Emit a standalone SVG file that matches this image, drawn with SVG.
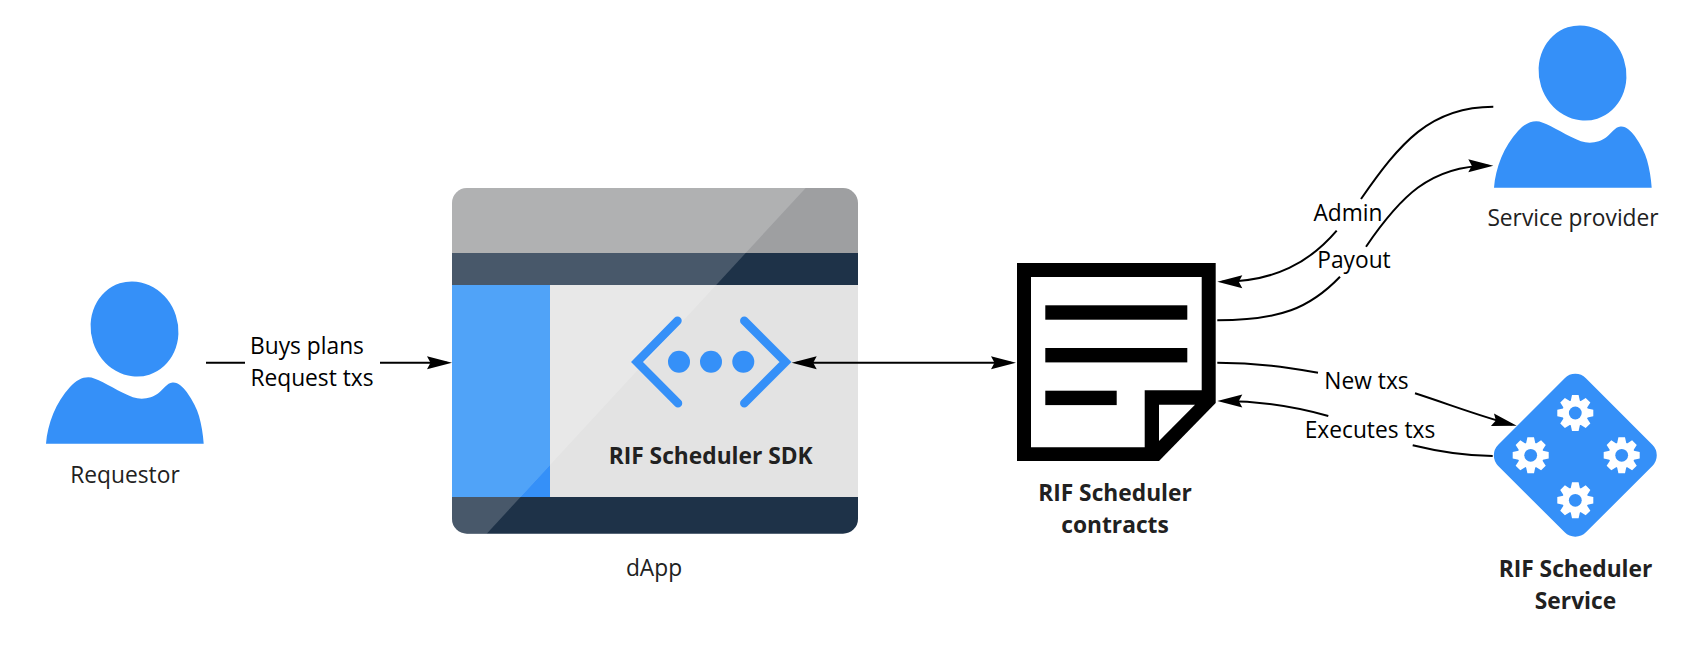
<svg xmlns="http://www.w3.org/2000/svg" width="1702" height="666" viewBox="0 0 1702 666">
<style>
text{font-family:"Open Sans","Noto Sans","DejaVu Sans",sans-serif;font-size:22.75px;fill:#212121;text-anchor:middle}
.b{font-weight:700}
.e{fill:#000}
.blue{fill:#3590f8}
.c{fill:none;stroke:#000;stroke-width:2}
.k{fill:#000}
</style>
<defs>
<marker id="arrow" markerUnits="userSpaceOnUse" markerWidth="27" markerHeight="15" refX="20" refY="7" orient="auto-start-reverse" overflow="visible"><path d="M0,0.5 L25,7 L0,13.5 L3.5,7 Z" fill="#000"/></marker>
<g id="person">
<ellipse cx="134.5" cy="329" rx="43.5" ry="48" transform="rotate(-18 134.5 329)"/>
<path d="M46,443.7 C47.5,424 56,402 70,387 C76,380.5 82,377.3 88.3,377.3 C96,377.3 108,385.5 123.3,393 C130,396.5 136,398.7 141.7,398.7 C148,398.7 154,396.5 158,393.5 C163,389.5 167,383 172.5,382.5 C178,382 183,387 186.7,392 C193,401 197,409 199,416 C201.5,425 203,434 203.7,443.7 Z"/>
</g>
<g id="gear" fill="#fff">
<circle r="13"/>
<path d="M-3.3,-18 H3.3 L4.8,-11 H-4.8 Z M-3.3,18 H3.3 L4.8,11 H-4.8 Z M-18,-3.3 V3.3 L-11,4.8 V-4.8 Z M18,-3.3 V3.3 L11,4.8 V-4.8 Z"/>
<path transform="rotate(45)" d="M-3.3,-18 H3.3 L4.8,-11 H-4.8 Z M-3.3,18 H3.3 L4.8,11 H-4.8 Z M-18,-3.3 V3.3 L-11,4.8 V-4.8 Z M18,-3.3 V3.3 L11,4.8 V-4.8 Z"/>
<circle r="6.4" fill="#3590f8"/>
</g>
<clipPath id="win"><rect x="452" y="188" width="406" height="345.7" rx="15"/></clipPath>
</defs>
<rect width="1702" height="666" fill="#fff"/>

<g id="requestor">
<use href="#person" class="blue"/>
<text x="125" y="482.6">Requestor</text>
</g>

<g id="dapp">
<g clip-path="url(#win)">
<rect x="452" y="188" width="406" height="65" fill="#9e9fa1"/>
<rect x="452" y="253" width="406" height="32" fill="#1e3248"/>
<rect x="452" y="285" width="98" height="212" fill="#3590f8"/>
<rect x="550" y="285" width="308" height="212" fill="#e3e3e3"/>
<rect x="452" y="497" width="406" height="37" fill="#1e3248"/>
<path d="M452,188 H805.7 L486.7,533.7 H452 Z" fill="#fff" fill-opacity="0.19"/>
<path d="M452,285 H550 V465 L520.3,497 H452 Z" fill="#50a3f8"/>
</g>
<path d="M677.5,320.7 L637,362 L678,403.3 M744.3,320.7 L785.5,362 L744.3,403.3" fill="none" stroke="#3590f8" stroke-width="8.5" stroke-linecap="round"/>
<circle cx="679" cy="361.7" r="11" class="blue"/>
<circle cx="711" cy="361.7" r="11" class="blue"/>
<circle cx="743.3" cy="361.7" r="11" class="blue"/>
<text class="b" x="710.7" y="464">RIF Scheduler SDK</text>
<text x="654" y="575.5">dApp</text>
</g>

<g id="contracts">
<path class="k" d="M1017,263 H1215.7 V403 L1159,461 H1017 Z"/>
<path fill="#fff" d="M1031,277 H1201.7 V390.3 H1144.7 V447.3 H1031 Z"/>
<path fill="#fff" d="M1159,404.7 H1195 L1159,441 Z"/>
<rect class="k" x="1045.3" y="305.3" width="142" height="14.4"/>
<rect class="k" x="1045.3" y="348" width="142" height="14.4"/>
<rect class="k" x="1045.3" y="390.7" width="71.4" height="14.4"/>
<text class="b" x="1115" y="500.7">RIF Scheduler</text>
<text class="b" x="1115" y="532.5">contracts</text>
</g>

<g id="service-provider">
<use href="#person" class="blue" transform="translate(1448 -256)"/>
<text x="1573" y="226.3">Service provider</text>
</g>

<g id="scheduler-service">
<rect x="-62" y="-62" width="124" height="124" rx="15" class="blue" transform="translate(1575.3 455.3) rotate(45)"/>
<use href="#gear" transform="translate(1575.3 413)"/>
<use href="#gear" transform="translate(1530.7 455.3)"/>
<use href="#gear" transform="translate(1621.7 455.3)"/>
<use href="#gear" transform="translate(1575.3 500.3)"/>
<text class="b" x="1575.5" y="576.8">RIF Scheduler</text>
<text class="b" x="1575.5" y="608.8">Service</text>
</g>

<g id="connectors">
<path class="c" marker-end="url(#arrow)" d="M206,362.7 H245 M380,362.7 H447"/>
<text class="e" x="307" y="354">Buys plans</text>
<text class="e" x="312" y="385.8">Request txs</text>
<path class="c" marker-start="url(#arrow)" marker-end="url(#arrow)" d="M796.7,362.7 H1011"/>
<path class="c" marker-end="url(#arrow)" d="M1493.3,106.7 C1430,106.7 1400,143 1361,199 M1336.7,230.7 C1310,262 1275,281.7 1222.3,281.7"/>
<text class="e" x="1348" y="221.3">Admin</text>
<path class="c" marker-end="url(#arrow)" d="M1217.3,320.3 C1280,320.3 1310,308 1340,276.7 M1366,246.7 C1400,197 1430,165.7 1488.3,165.7"/>
<text class="e" x="1354" y="268">Payout</text>
<path class="c" marker-end="url(#arrow)" d="M1217.3,362.7 C1260,362.7 1290,368 1318,372.7 M1415,393.3 C1450,404.6 1485,418 1511.9,424.5"/>
<text class="e" x="1366.5" y="388.5">New txs</text>
<path class="c" marker-end="url(#arrow)" d="M1492.7,456 C1465,456 1440,452 1412.7,445.3 M1328.3,416 C1300,408 1265,401 1222.3,401"/>
<text class="e" x="1370" y="437.5">Executes txs</text>
</g>
</svg>
